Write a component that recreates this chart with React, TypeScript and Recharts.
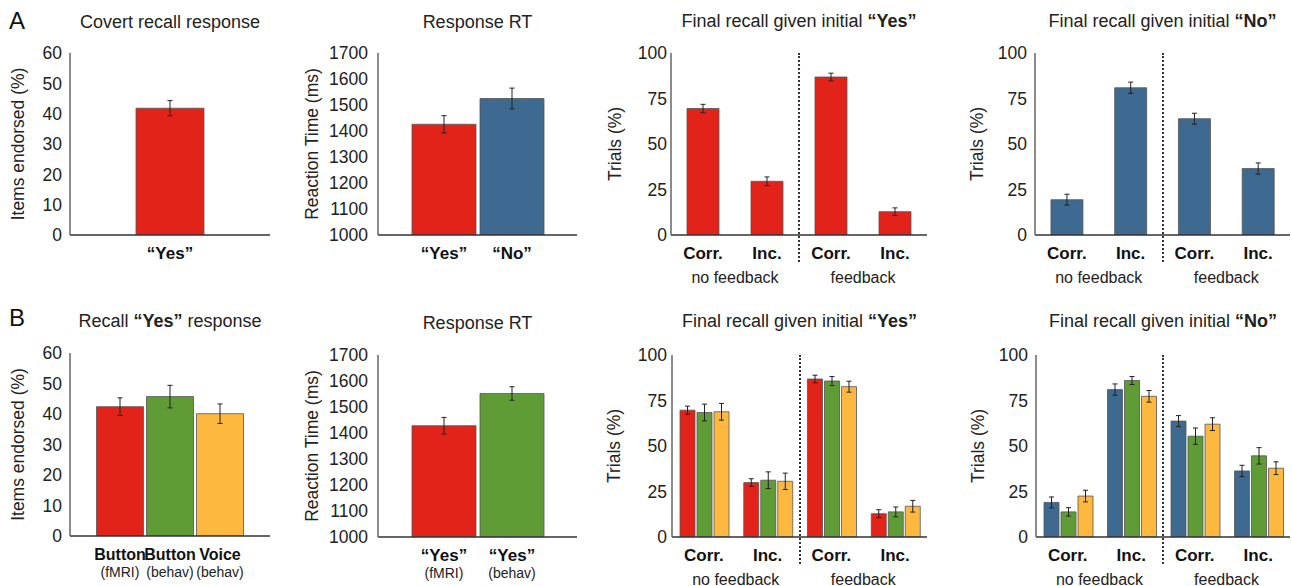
import React from "react";
import { BarChart, Bar, XAxis, YAxis, ErrorBar, Cell } from "recharts";

const RED = "#e2231a";
const BLUE = "#3e6990";
const GREEN = "#5f9c36";
const YELLOW = "#fdb93f";
const FONT = '"Liberation Sans", Arial, Helvetica, sans-serif';

// row A
const covertCats = ["\u201cYes\u201d"];
const covertVals = [41.8];
const covertErr = [2.5];

const rtCatsA = ["\u201cYes\u201d", "\u201cNo\u201d"];
const rtValsA = [1426, 1525];
const rtErrA = [33, 40];

const finalCats = ["Corr.", "Inc.", "Corr.", "Inc."];
const finalGroups = ["no feedback", "feedback"];
const yesValsA = [69.5, 29.5, 86.8, 12.8];
const yesErrA = [2.3, 2.4, 2.1, 2.1];
const noValsA = [19.4, 80.9, 63.9, 36.5];
const noErrA = [3, 3.1, 3, 3.1];

// row B
const recallCats = ["Button", "Button", "Voice"];
const recallSubs = ["(fMRI)", "(behav)", "(behav)"];
const recallVals = [42.4, 45.7, 40.1];
const recallErr = [2.9, 3.7, 3.2];

const rtCatsB = ["\u201cYes\u201d", "\u201cYes\u201d"];
const rtSubsB = ["(fMRI)", "(behav)"];
const rtValsB = [1428, 1552];
const rtErrB = [32, 26];

const yesFmri = [69.7, 29.9, 86.8, 12.8];
const yesFmriErr = [2.2, 2.1, 2.1, 2.2];
const yesButton = [68.4, 31.2, 85.7, 13.8];
const yesButtonErr = [4.6, 4.6, 2.5, 2.7];
const yesVoice = [68.8, 30.6, 82.6, 16.9];
const yesVoiceErr = [4.6, 4.5, 3, 3.2];

const noFmri = [19, 81, 63.7, 36.3];
const noFmriErr = [3, 3.1, 3, 3.1];
const noButton = [13.8, 86, 55.4, 44.6];
const noButtonErr = [2.3, 2.2, 4.5, 4.5];
const noVoice = [22.5, 77.3, 62, 37.8];
const noVoiceErr = [3.2, 3.2, 3.5, 3.5];

const pctTicks60 = [0, 10, 20, 30, 40, 50, 60];
const rtTicks = [1000, 1100, 1200, 1300, 1400, 1500, 1600, 1700];
const pctTicks100 = [0, 25, 50, 75, 100];

const fill = (c: string, n: number) => Array.from({ length: n }, () => c);

const rows = (cats: string[], series: number[][], errs: number[][]) =>
  cats.map((_, i) => {
    const row: Record<string, number | string> = { id: `c${i}` };
    series.forEach((s, k) => {
      row[`v${k}`] = s[i];
      row[`e${k}`] = errs[k][i];
    });
    return row;
  });

type PanelProps = {
  axisX: number;
  plotRight: number;
  plotTop: number;
  plotBottom: number;
  labelX: number;
  yLabel: string;
  domain: [number, number];
  ticks: number[];
  cats: string[];
  catFont?: number;
  subs?: string[];
  groups?: string[];
  values: number[][];
  errors: number[][];
  colors: string[][];
  padding?: { left: number; right: number };
  barCategoryGap: number | string;
  barGap?: number;
  yTickGap: number;
  title: React.ReactNode;
  titleTop: number;
  divider?: boolean;
};

function Panel(p: PanelProps) {
  const YW = 85;
  const MT = 12;
  const MR = 4;
  const XH = 60;
  const plotW = p.plotRight - p.axisX;
  const plotH = p.plotBottom - p.plotTop;
  const left = p.axisX - YW;
  const top = p.plotTop - MT;
  const data = rows(p.cats, p.values, p.errors);
  const pad = p.padding ?? { left: 0, right: 0 };
  const band = (plotW - pad.left - pad.right) / p.cats.length;

  const renderTick = (props: any) => {
    const { x, y } = props;
    const i: number = props.index ?? props.payload?.index ?? 0;
    return (
      <g>
        <text x={x} y={y + 24} textAnchor="middle" fontSize={p.catFont ?? 17} fontWeight="bold" fill="#111">
          {p.cats[i]}
        </text>
        {p.subs && (
          <text x={x} y={y + 41} textAnchor="middle" fontSize={14} fill="#222">
            {p.subs[i]}
          </text>
        )}
        {p.groups && i % 2 === 0 && (
          <text x={x + band / 2} y={y + 47.5} textAnchor="middle" fontSize={16} fill="#222">
            {p.groups[i / 2]}
          </text>
        )}
      </g>
    );
  };

  const lx = p.labelX - left;
  const ly = MT + plotH / 2;
  const renderYLabel = () => (
    <text
      x={lx}
      y={ly}
      transform={`rotate(-90 ${lx} ${ly})`}
      textAnchor="middle"
      dominantBaseline="central"
      fontSize={17.5}
      fill="#222"
    >
      {p.yLabel}
    </text>
  );

  return (
    <>
      <div
        style={{
          position: "absolute",
          left: p.axisX + plotW / 2 - 200,
          top: p.titleTop,
          width: 400,
          textAlign: "center",
          fontSize: 18,
          lineHeight: "20px",
          color: "#222",
        }}
      >
        {p.title}
      </div>
      <div style={{ position: "absolute", left, top }}>
        <BarChart
          width={YW + plotW + MR}
          height={MT + plotH + XH}
          data={data}
          margin={{ top: MT, right: MR, left: 0, bottom: 0 }}
          barCategoryGap={p.barCategoryGap}
          barGap={p.barGap ?? 0}
        >
          <XAxis
            dataKey="id"
            interval={0}
            height={XH}
            tickLine={false}
            tickSize={0}
            tickMargin={0}
            axisLine={{ stroke: "#333", strokeWidth: 1.5 }}
            padding={pad}
            tick={renderTick}
          />
          <YAxis
            width={YW}
            domain={p.domain}
            ticks={p.ticks}
            interval={0}
            allowDataOverflow
            tickLine={false}
            tickSize={0}
            tickMargin={p.yTickGap}
            axisLine={{ stroke: "#666", strokeWidth: 1.5 }}
            tick={{ fontSize: 17.5, fill: "#222" }}
            label={{ value: p.yLabel, content: renderYLabel }}
          />
          {p.values.map((_, k) => (
            <Bar key={k} dataKey={`v${k}`} isAnimationActive={false} stroke="#555" strokeWidth={0.8}>
              {p.cats.map((_, i) => (
                <Cell key={i} fill={p.colors[k][i]} />
              ))}
              <ErrorBar dataKey={`e${k}`} width={2.5} stroke="#222" strokeWidth={1} />
            </Bar>
          ))}
        </BarChart>
      </div>
      {p.divider && (
        <div
          style={{
            position: "absolute",
            left: p.axisX + plotW / 2 - 1,
            top: p.plotTop,
            height: 209,
            borderLeft: "2px dotted #333",
          }}
        />
      )}
    </>
  );
}

const Letter = ({ text, top }: { text: string; top: number }) => (
  <div style={{ position: "absolute", left: 9, top, fontSize: 24, lineHeight: "28px", color: "#111" }}>
    {text}
  </div>
);

export default function App() {
  return (
    <div
      style={{
        position: "absolute",
        left: 0,
        top: 0,
        width: 1292,
        height: 586,
        overflow: "hidden",
        background: "#fff",
        fontFamily: FONT,
      }}
    >
      <Letter text="A" top={7} />
      <Letter text="B" top={304} />

      <Panel
        axisX={70} plotRight={270} plotTop={53} plotBottom={235} labelX={18}
        yLabel="Items endorsed (%)" domain={[0, 60]} ticks={pctTicks60} yTickGap={8}
        cats={covertCats} values={[covertVals]} errors={[covertErr]} colors={[[RED]]}
        barCategoryGap="33%" title="Covert recall response" titleTop={12}
      />
      <Panel
        axisX={378} plotRight={577} plotTop={53} plotBottom={235} labelX={312}
        yLabel="Reaction Time (ms)" domain={[1000, 1700]} ticks={rtTicks} yTickGap={10}
        cats={rtCatsA} values={[rtValsA]} errors={[rtErrA]} colors={[[RED, BLUE]]}
        padding={{ left: 32, right: 31 }} barCategoryGap={2}
        title="Response RT" titleTop={12}
      />
      <Panel
        axisX={671} plotRight={927} plotTop={53} plotBottom={235} labelX={615}
        yLabel="Trials (%)" domain={[0, 100]} ticks={pctTicks100} yTickGap={4}
        cats={finalCats} groups={finalGroups} values={[yesValsA]} errors={[yesErrA]}
        colors={[fill(RED, 4)]} barCategoryGap="25%" divider
        title={<>Final recall given initial <b>{"\u201cYes\u201d"}</b></>} titleTop={11}
      />
      <Panel
        axisX={1035} plotRight={1290} plotTop={53} plotBottom={235} labelX={977}
        yLabel="Trials (%)" domain={[0, 100]} ticks={pctTicks100} yTickGap={8}
        cats={finalCats} groups={finalGroups} values={[noValsA]} errors={[noErrA]}
        colors={[fill(BLUE, 4)]} barCategoryGap="25%" divider
        title={<>Final recall given initial <b>{"\u201cNo\u201d"}</b></>} titleTop={11}
      />

      <Panel
        axisX={70} plotRight={270} plotTop={353} plotBottom={536} labelX={18}
        yLabel="Items endorsed (%)" domain={[0, 60]} ticks={pctTicks60} yTickGap={8}
        cats={recallCats} catFont={16} subs={recallSubs} values={[recallVals]} errors={[recallErr]}
        colors={[[RED, GREEN, YELLOW]]} padding={{ left: 25, right: 25 }} barCategoryGap={1.5}
        title={<>Recall <b>{"\u201cYes\u201d"}</b> response</>} titleTop={311}
      />
      <Panel
        axisX={378} plotRight={577} plotTop={355} plotBottom={537} labelX={312}
        yLabel="Reaction Time (ms)" domain={[1000, 1700]} ticks={rtTicks} yTickGap={10}
        cats={rtCatsB} subs={rtSubsB} values={[rtValsB]} errors={[rtErrB]} colors={[[RED, GREEN]]}
        padding={{ left: 32, right: 31 }} barCategoryGap={2}
        title="Response RT" titleTop={313}
      />
      <Panel
        axisX={672} plotRight={927} plotTop={355} plotBottom={537} labelX={614}
        yLabel="Trials (%)" domain={[0, 100]} ticks={pctTicks100} yTickGap={5}
        cats={finalCats} groups={finalGroups}
        values={[yesFmri, yesButton, yesVoice]}
        errors={[yesFmriErr, yesButtonErr, yesVoiceErr]}
        colors={[fill(RED, 4), fill(GREEN, 4), fill(YELLOW, 4)]}
        barCategoryGap={8} barGap={2} divider
        title={<>Final recall given initial <b>{"\u201cYes\u201d"}</b></>} titleTop={311}
      />
      <Panel
        axisX={1036} plotRight={1290} plotTop={355} plotBottom={537} labelX={978}
        yLabel="Trials (%)" domain={[0, 100]} ticks={pctTicks100} yTickGap={8}
        cats={finalCats} groups={finalGroups}
        values={[noFmri, noButton, noVoice]}
        errors={[noFmriErr, noButtonErr, noVoiceErr]}
        colors={[fill(BLUE, 4), fill(GREEN, 4), fill(YELLOW, 4)]}
        barCategoryGap={8} barGap={2} divider
        title={<>Final recall given initial <b>{"\u201cNo\u201d"}</b></>} titleTop={311}
      />
    </div>
  );
}
